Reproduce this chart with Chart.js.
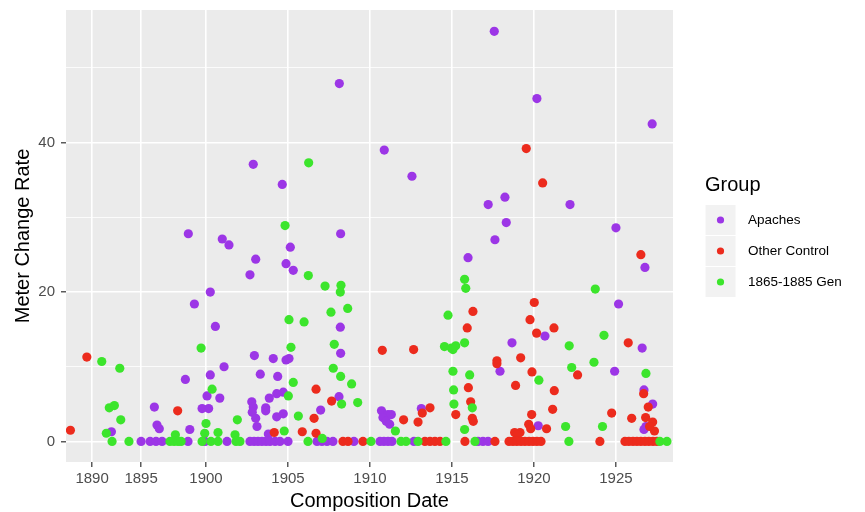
<!DOCTYPE html>
<html>
<head>
<meta charset="utf-8">
<script src="https://cdn.jsdelivr.net/npm/chart.js@4.4.1/dist/chart.umd.min.js"></script>
<style>
  html, body { margin: 0; padding: 0; background: #fff; }
  #wrap { width: 865px; height: 512px; }
</style>
</head>
<body>
<div id="wrap"><canvas id="chart" width="865" height="512"></canvas></div>
<script>
// groups, as in the legend
const groupLabels = ['Apaches', 'Other Control', '1865-1885 Gen'];
const groupColors = ['#9C36E6', '#EC2B1D', '#3CE52C'];

// axis ticks (the first two labels sit closer together in the source picture)
const xTickValues = [1893.05, 1896.04, 1900, 1905, 1910, 1915, 1920, 1925];
const xTickLabels = ['1890', '1895', '1900', '1905', '1910', '1915', '1920', '1925'];
const yTickValues = [0, 10, 20, 30, 40, 50];
const yTickLabels = ['0', '', '20', '', '40', ''];

// [composition date, meter change rate]
const apaches = [
  [1908.13,47.9],[1902.88,37.1],[1904.65,34.4],[1898.92,27.8],[1908.21,27.8],[1900.99,27.1],[1901.40,26.3],
  [1905.14,26.0],[1917.58,54.9],[1920.18,45.9],[1927.21,42.5],[1910.87,39.0],[1912.56,35.5],[1918.23,32.7],
  [1917.21,31.7],[1922.20,31.7],[1918.31,29.3],[1925.00,28.6],[1917.62,27.0],[1903.03,24.4],[1902.68,22.3],
  [1904.88,23.8],[1905.32,22.9],[1900.26,20.0],[1899.29,18.4],[1900.57,15.4],[1908.19,15.3],[1908.21,11.8],
  [1902.95,11.5],[1904.10,11.1],[1904.88,10.9],[1905.06,11.1],[1901.10,10.0],[1898.74,8.3],[1900.26,8.9],
  [1903.31,9.0],[1904.37,8.7],[1904.31,6.4],[1904.71,6.6],[1903.86,5.8],[1900.06,6.1],[1900.84,5.8],
  [1908.11,6.0],[1902.79,5.3],[1902.88,4.6],[1902.82,3.9],[1903.64,4.5],[1903.64,4.1],[1904.31,3.3],
  [1904.71,3.7],[1903.03,3.1],[1906.99,4.2],[1903.11,2.0],[1903.80,1.0],[1896.85,4.6],[1899.76,4.4],
  [1900.16,4.4],[1897.01,2.2],[1897.15,1.7],[1899.01,1.6],[1894.23,1.3],[1910.70,4.1],[1911.10,3.6],
  [1910.79,3.2],[1910.99,2.7],[1911.20,2.3],[1911.30,3.6],[1913.13,4.4],[1918.66,13.2],[1915.98,24.6],
  [1917.93,9.4],[1920.26,2.1],[1920.67,14.1],[1925.16,18.4],[1926.60,12.5],[1924.92,9.4],[1926.77,23.3],
  [1926.71,6.9],[1927.24,5.0],[1926.83,2.0],[1926.71,1.6]
];
const apachesAtZero = [
  1896.04,1896.59,1896.95,1897.32,1898.90,1899.94,1901.28,1902.68,1902.93,1903.17,1903.41,1903.66,
  1903.90,1904.21,1904.51,1905.00,1906.77,1907.07,1907.38,1907.74,1909.02,1910.61,1910.85,1911.10,
  1911.34,1912.68,1916.59,1916.89,1917.20
];

const otherControl = [
  [1919.53,39.2],[1920.53,34.6],[1926.52,25.0],[1920.02,18.6],[1916.28,17.4],[1915.93,15.2],[1919.76,16.3],
  [1920.16,14.5],[1921.22,15.2],[1925.75,13.2],[1910.75,12.2],[1912.66,12.3],[1892.73,11.3],[1919.19,11.2],
  [1917.74,10.8],[1917.74,10.4],[1919.88,9.3],[1922.66,8.9],[1918.88,7.5],[1916.00,7.2],[1906.71,7.0],
  [1921.24,6.8],[1926.69,6.4],[1907.66,5.4],[1916.14,5.3],[1926.97,4.6],[1921.14,4.3],[1913.66,4.5],
  [1913.19,3.8],[1898.27,4.1],[1915.23,3.6],[1919.86,3.6],[1924.74,3.8],[1925.96,3.1],[1926.81,3.2],
  [1927.24,2.6],[1906.59,3.1],[1916.24,3.1],[1916.30,2.7],[1912.05,2.9],[1912.93,2.6],[1919.68,2.3],
  [1919.80,1.7],[1920.77,1.7],[1919.15,1.2],[1918.82,1.2],[1918.98,0.9],[1905.87,1.3],[1906.71,1.1],
  [1904.16,1.2],[1891.73,1.5],[1927.35,1.4],[1927.05,2.0]
];
const otherControlAtZero = [
  1908.35,1908.66,1909.57,1913.35,1913.66,1913.96,1914.27,1915.79,1917.62,1918.48,1918.72,1918.96,
  1919.21,1919.45,1919.70,1919.94,1920.18,1920.43,1924.02,1925.55,1925.79,1926.04,1926.28,1926.52,
  1926.77,1927.01,1927.26,1927.50
];

const gen1865 = [
  [1906.26,37.3],[1904.82,28.9],[1906.24,22.2],[1907.26,20.8],[1908.23,20.9],[1908.19,20.0],[1908.64,17.8],
  [1907.62,17.3],[1905.06,16.3],[1905.98,16.0],[1905.18,12.6],[1907.82,13.0],[1899.70,12.5],[1893.64,10.7],
  [1894.74,9.8],[1907.76,9.8],[1908.21,8.7],[1908.88,7.7],[1905.32,7.9],[1900.37,7.0],[1905.02,6.1],
  [1909.25,5.2],[1908.27,5.0],[1894.10,4.5],[1894.41,4.8],[1894.80,2.9],[1900.00,2.4],[1901.91,2.9],
  [1905.63,3.4],[1893.92,1.1],[1898.13,0.9],[1899.92,1.1],[1900.73,1.2],[1901.77,0.9],[1904.77,1.4],
  [1907.09,0.4],[1911.55,1.4],[1914.76,16.9],[1915.77,21.7],[1915.84,20.5],[1914.54,12.7],[1914.96,12.5],
  [1915.23,12.8],[1915.77,13.2],[1915.06,12.3],[1915.06,9.4],[1916.08,8.9],[1915.10,6.9],[1915.12,5.0],
  [1916.24,4.5],[1915.77,1.6],[1923.74,20.4],[1924.27,14.2],[1922.15,12.8],[1923.66,10.6],[1922.30,9.9],
  [1926.83,9.1],[1920.30,8.2],[1921.93,2.0],[1924.18,2.0]
];
const gen1865AtZero = [
  1894.27,1895.30,1897.80,1898.05,1898.29,1898.48,1899.76,1900.30,1900.73,1901.83,1902.07,1906.22,
  1910.06,1911.89,1912.20,1912.93,1914.63,1916.40,1922.13,1927.68,1928.11
];

function toPoints(pairs, zeros) {
  return pairs.map(p => ({ x: p[0], y: p[1] })).concat(zeros.map(x => ({ x: x, y: 0 })));
}

const FONT = "'Liberation Sans', Arial, Helvetica, sans-serif";

const panelBackground = {
  id: 'panelBackground',
  beforeDraw(chart) {
    const { ctx, chartArea: a } = chart;
    ctx.save();
    ctx.fillStyle = '#ffffff';
    ctx.fillRect(0, 0, chart.width, chart.height);
    ctx.fillStyle = '#EBEBEB';
    ctx.fillRect(a.left, a.top, a.right - a.left, a.bottom - a.top);
    ctx.restore();
  }
};

// ggplot-style legend on the right
const groupLegend = {
  id: 'groupLegend',
  afterDraw(chart) {
    const ctx = chart.ctx;
    const left = 705, keySize = 31, firstTop = 204.5;
    ctx.save();
    ctx.fillStyle = '#000';
    ctx.font = '20px ' + FONT;
    ctx.textBaseline = 'alphabetic';
    ctx.textAlign = 'left';
    ctx.fillText('Group', left, 191);
    groupLabels.forEach((label, i) => {
      const top = firstTop + i * keySize;
      ctx.fillStyle = '#F2F2F2';
      ctx.fillRect(left, top, keySize, keySize);
      ctx.strokeStyle = '#ffffff';
      ctx.lineWidth = 1;
      ctx.strokeRect(left, top, keySize, keySize);
      ctx.fillStyle = groupColors[i];
      ctx.beginPath();
      ctx.arc(left + keySize / 2, top + keySize / 2, 3.6, 0, Math.PI * 2);
      ctx.fill();
      ctx.fillStyle = '#000';
      ctx.font = '13.5px ' + FONT;
      ctx.textBaseline = 'middle';
      ctx.fillText(label, 748, top + keySize / 2 + 0.5);
    });
    ctx.restore();
  }
};

const seriesPoints = [
  toPoints(apaches, apachesAtZero),
  toPoints(otherControl, otherControlAtZero),
  toPoints(gen1865, gen1865AtZero)
];

const datasets = groupLabels.map((label, i) => ({
  label: label,
  data: seriesPoints[i],
  backgroundColor: groupColors[i],
  borderWidth: 0,
  pointRadius: 4.6,
  pointHoverRadius: 4.6,
  order: 3 - i
}));

new Chart(document.getElementById('chart'), {
  type: 'scatter',
  data: { datasets },
  plugins: [panelBackground, groupLegend],
  options: {
    responsive: false,
    animation: false,
    events: [],
    layout: { autoPadding: false, padding: { top: 10, right: 192, left: 0, bottom: 0 } },
    plugins: { legend: { display: false }, tooltip: { enabled: false } },
    scales: {
      x: {
        type: 'linear',
        min: 1891.46,
        max: 1928.48,
        afterBuildTicks: s => { s.ticks = xTickValues.map(v => ({ value: v })); },
        afterFit: s => { s.height = 50; s.paddingLeft = 0; s.paddingRight = 0; },
        border: { display: false },
        grid: { color: '#ffffff', lineWidth: 1.6, tickColor: '#333333', tickLength: 5, tickWidth: 1.2 },
        ticks: {
          autoSkip: false, maxRotation: 0, padding: 3,
          color: '#4D4D4D', font: { family: FONT, size: 15 },
          callback: (v, i) => xTickLabels[i]
        },
        title: { display: true, text: 'Composition Date', color: '#000', font: { family: FONT, size: 20 }, padding: { top: 0, bottom: -1 } }
      },
      y: {
        type: 'linear',
        min: -2.75,
        max: 57.75,
        afterBuildTicks: s => { s.ticks = yTickValues.map(v => ({ value: v })); },
        afterFit: s => { s.width = 66; s.paddingTop = 0; s.paddingBottom = 0; },
        border: { display: false },
        grid: {
          color: '#ffffff',
          lineWidth: c => (yTickLabels[c.index] ? 1.6 : 0.8),
          tickColor: c => (yTickLabels[c.index] ? '#333333' : 'rgba(0,0,0,0)'),
          tickLength: 5, tickWidth: 1.2
        },
        ticks: {
          padding: 6, color: '#4D4D4D', font: { family: FONT, size: 15 },
          callback: (v, i) => yTickLabels[i]
        },
        title: { display: true, text: 'Meter Change Rate', color: '#000', font: { family: FONT, size: 20 }, padding: { top: 11, bottom: 0 } }
      }
    }
  }
});
</script>
</body>
</html>
